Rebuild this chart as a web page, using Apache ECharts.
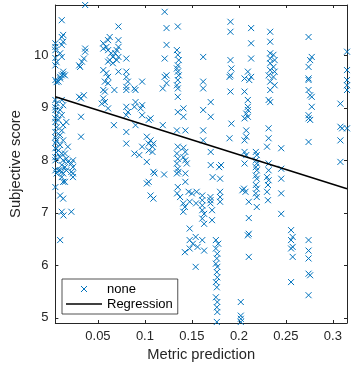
<!DOCTYPE html>
<html>
<head>
<meta charset="utf-8">
<script src="https://cdn.jsdelivr.net/npm/echarts@6/dist/echarts.min.js"></script>
<style>
  html, body { margin: 0; padding: 0; background: #fff; }
  #chart { width: 354px; height: 370px; }
</style>
</head>
<body>
<div id="chart"></div>
<script>
// [metric prediction, subjective score], one line per column of points
const samples = [
  [0.0047,10.23],[0.0047,10.16],[0.0047,10.10],[0.0047,9.95],[0.006,9.87],[0.0047,9.81],[0.0047,9.53],[0.006,9.49],[0.0047,9.15],[0.006,9.09],[0.0047,9.01],[0.0047,8.96],[0.006,8.86],[0.0047,8.80],[0.0047,8.73],[0.006,8.63],[0.0047,8.54],[0.0047,8.44],[0.006,8.38],[0.0047,8.33],[0.0047,8.23],[0.006,8.15],[0.0047,8.06],[0.0047,8.00],[0.0047,7.81],[0.006,7.75],[0.0047,7.49],
  [0.0115,10.67],[0.013,10.39],[0.0115,10.35],[0.013,10.26],[0.0115,10.20],[0.0098,10.04],[0.0115,9.97],[0.013,9.69],[0.0115,9.62],[0.0098,9.56],[0.008,9.50],[0.0115,9.15],[0.013,9.05],[0.0098,8.96],[0.0115,8.86],[0.008,8.77],[0.013,8.67],[0.0115,8.57],[0.0098,8.48],[0.013,8.38],[0.0098,8.29],[0.008,8.19],[0.0115,8.13],[0.0098,8.06],[0.013,8.00],[0.0115,7.91],[0.0098,7.81],[0.013,7.75],[0.0115,7.68],[0.013,7.59],[0.0098,7.33],[0.013,7.27],[0.0115,7.02],[0.0133,6.95],[0.0098,6.48],[0.008,7.81],[0.0115,7.78],[0.0149,7.59],[0.0098,9.59],[0.013,9.64],[0.0149,9.62],
  [0.0164,8.73],[0.018,8.26],[0.0149,8.13],[0.0164,8.03],[0.018,7.97],[0.0149,7.87],[0.0164,7.81],
  [0.0234,8.00],[0.0217,7.94],[0.0234,7.87],[0.0217,7.78],[0.0234,7.75],[0.0234,7.68],[0.0217,7.02],
  [0.0364,10.96],[0.0364,10.13],[0.0364,10.07],[0.035,9.94],[0.033,9.88],[0.030,9.81],[0.031,9.78],[0.035,9.24],[0.030,9.21],[0.032,9.18],[0.032,8.83],[0.032,8.45],
  [0.0557,10.23],[0.0608,10.29],[0.0625,10.35],[0.059,10.16],[0.0557,10.13],[0.0608,10.10],[0.064,10.04],[0.0659,9.97],[0.0625,9.91],[0.0608,9.88],[0.0659,9.85],[0.0557,9.72],[0.059,9.66],[0.0608,9.59],[0.0574,9.50],[0.0608,9.47],[0.0557,9.34],[0.0574,9.31],[0.0675,9.34],[0.0557,9.18],[0.0574,9.11],[0.054,9.08],[0.0608,8.99],[0.067,8.67],
  [0.0718,10.55],[0.0718,10.29],[0.0718,10.16],[0.070,10.10],[0.0684,10.04],[0.0718,9.97],[0.070,9.91],[0.0718,9.69],
  [0.0802,9.94],[0.0802,9.69],[0.0802,9.59],[0.0819,9.50],[0.0802,9.40],[0.0802,9.34],[0.0802,9.02],[0.0819,8.92],[0.0802,8.86],[0.0802,8.54],[0.0802,8.32],
  [0.0888,9.37],[0.090,9.34],[0.097,9.50],[0.090,9.11],[0.0888,9.02],[0.097,9.05],[0.0955,8.99],[0.097,8.86],[0.090,8.67],[0.0888,8.13],[0.094,8.10],[0.097,8.26],
  [0.104,8.77],[0.106,8.80],[0.102,8.45],[0.106,8.38],[0.104,8.32],[0.108,8.26],[0.104,8.19],[0.108,8.16],[0.109,8.32],[0.102,7.97],[0.109,7.78],[0.104,7.59],[0.102,7.56],[0.106,7.33],[0.109,7.27],[0.1102,7.75],
  [0.121,10.83],[0.123,10.52],[0.123,10.20],[0.121,9.94],[0.123,9.62],[0.121,9.59],[0.119,9.37],[0.123,9.47],[0.119,8.67],[0.1204,7.73],
  [0.135,10.55],[0.134,10.10],[0.135,10.01],[0.136,9.91],[0.135,9.81],[0.134,9.75],[0.135,9.69],[0.136,9.62],[0.135,9.53],[0.134,9.43],[0.135,9.37],[0.135,9.21],[0.135,8.92],[0.134,8.57],[0.135,8.26],[0.134,8.13],[0.135,8.03],[0.134,7.94],[0.135,7.84],[0.134,7.75],[0.135,7.49],[0.1342,7.37],[0.1374,7.30],
  [0.141,8.99],[0.141,8.83],[0.143,8.57],[0.141,8.24],[0.143,8.16],[0.141,8.06],[0.143,8.00],[0.1445,7.94],[0.143,7.59],[0.143,7.75],[0.1357,7.78],[0.1408,7.18],[0.1425,7.11],[0.1408,7.02],[0.1476,7.21],[0.1544,7.18],
  [0.1476,6.70],[0.1476,6.48],[0.151,6.41],[0.1476,6.32],[0.154,6.54],[0.156,6.35],[0.1425,6.25],[0.154,5.97],[0.1465,7.40],[0.150,7.37],[0.155,7.40],
  [0.162,9.97],[0.162,9.50],[0.162,9.37],[0.162,8.96],[0.162,8.57],[0.162,8.38],[0.161,7.33],[0.161,7.24],[0.161,7.14],[0.161,7.05],[0.163,6.98],[0.161,6.89],[0.163,6.79],[0.161,6.48],[0.163,6.28],
  [0.170,9.11],[0.170,8.83],[0.170,8.16],[0.170,7.91],[0.172,7.68],[0.1697,7.30],[0.1697,7.24],[0.1697,7.18],[0.1714,7.05],[0.1714,6.86],
  [0.181,7.91],[0.179,7.87],[0.18,7.65],[0.18,7.40],[0.18,7.30],[0.18,7.21],
  [0.1755,6.48],[0.178,6.41],[0.1755,6.32],[0.177,6.22],[0.1765,6.13],[0.1755,6.03],[0.177,5.97],[0.1765,5.87],[0.177,5.77],[0.1755,5.68],[0.1765,5.58],[0.1755,5.39],[0.177,5.30],[0.1765,5.20],[0.177,5.11],[0.1765,4.92],
  [0.191,10.64],[0.191,10.45],[0.191,9.91],[0.192,9.75],[0.191,9.62],[0.190,9.59],[0.191,9.31],[0.192,8.70],[0.190,8.42],
  [0.2054,7.46],[0.207,7.40],[0.2037,7.43],[0.2105,7.21],[0.2105,6.90],[0.2105,6.60],[0.2105,6.16],[0.219,7.11],[0.202,5.30],[0.202,5.04],[0.202,4.98],[0.202,4.92],
  [0.213,10.52],[0.213,10.23],[0.213,9.94],[0.2095,9.69],[0.213,9.59],[0.211,9.53],[0.206,9.56],[0.206,9.31],[0.2095,9.15],[0.2095,9.02],[0.2095,8.96],[0.2078,8.89],[0.2095,8.83],[0.206,8.80],[0.2078,8.57],[0.2078,8.45],[0.206,8.38],[0.206,8.16],[0.2078,8.10],[0.206,7.94],[0.2095,6.57],
  [0.218,8.16],[0.219,8.10],[0.218,8.00],[0.219,7.94],[0.218,7.87],[0.219,7.81],[0.218,7.71],[0.219,7.65],[0.218,7.53],[0.219,7.46],[0.218,7.37],[0.219,7.30],
  [0.2333,10.45],[0.2333,10.26],[0.2333,10.04],[0.2367,10.01],[0.2333,9.94],[0.238,9.91],[0.2333,9.85],[0.2367,9.78],[0.2333,9.72],[0.238,9.69],[0.2316,9.62],[0.2367,9.59],[0.2333,9.50],[0.238,9.43],[0.2333,9.34],[0.2316,9.15],[0.2333,9.11],[0.2316,8.61],[0.2316,8.42],[0.2299,8.26],[0.2316,7.94],[0.2316,7.81],[0.2299,7.68],[0.2316,7.62],[0.2309,7.53],[0.2299,7.40],[0.2309,7.24],
  [0.245,8.23],[0.245,7.84],[0.245,7.65],[0.245,7.37],[0.245,6.98],
  [0.2555,6.67],[0.2572,6.54],[0.2555,6.48],[0.2572,6.35],[0.2555,6.32],[0.2572,6.16],[0.2555,5.68],
  [0.2741,10.35],[0.2775,9.97],[0.2758,9.91],[0.2741,9.78],[0.2741,9.56],[0.2741,9.53],[0.2741,9.34],[0.2758,9.24],[0.2775,9.21],[0.2775,9.02],[0.2741,8.86],[0.2741,8.80],[0.2758,8.77],[0.2741,8.35],[0.2741,6.48],[0.2741,6.28],[0.2741,6.13],[0.2741,5.84],[0.2758,5.81],[0.2741,5.43],
  [0.315,10.07],[0.315,9.72],[0.315,9.53],[0.315,9.43],[0.315,9.34],[0.308,9.08],[0.308,8.64],[0.3098,8.61],[0.315,8.61],[0.308,8.38],[0.308,7.97]
];

// regression line end points
const regMetric = [0.0047, 0.315];
const regScore = [9.21, 7.46];

const xTicks = [0.05, 0.1, 0.15, 0.2, 0.25, 0.3];
const yTicks = [5, 6, 7, 8, 9, 10];
const xRange = [0.0047, 0.315];
const yRange = [4.9, 10.96];

const axisColor = '#262626';
const markerColor = '#0072BD';
const font = '"Liberation Sans", Arial, sans-serif';
const crossIcon = 'path://M0,0L10,10M10,0L0,10';
const lineIcon = 'path://M0,0L36,0L36,1.5L0,1.5Z';

function onTick(ticks, v) {
  return ticks.some(t => Math.abs(t - v) < 1e-9);
}

function boxAxis(range, ticks, position, withLabels) {
  return {
    type: 'value',
    position: position,
    min: range[0],
    max: range[1],
    splitNumber: 6,
    axisLine: { show: true, onZero: false, lineStyle: { color: axisColor, width: 1 } },
    axisTick: { show: true, inside: true, length: 3, lineStyle: { color: axisColor, width: 1 } },
    axisLabel: {
      show: withLabels,
      color: axisColor,
      fontSize: 13,
      fontFamily: font,
      margin: 7,
      formatter: v => onTick(ticks, v) ? String(Number(v.toFixed(4))) : ''
    },
    splitLine: { show: false }
  };
}

const chart = echarts.init(document.getElementById('chart'));

const bottomAxis = boxAxis(xRange, xTicks, 'bottom', true);
bottomAxis.name = 'Metric prediction';
bottomAxis.nameLocation = 'middle';
bottomAxis.nameGap = 22;
bottomAxis.nameTextStyle = { color: axisColor, fontSize: 14.7, fontFamily: font };

const leftAxis = boxAxis(yRange, yTicks, 'left', true);
leftAxis.name = 'Subjective score';
leftAxis.nameLocation = 'middle';
leftAxis.nameGap = 30;
leftAxis.nameTextStyle = { color: axisColor, fontSize: 14.7, fontFamily: font };

const option = {
  animation: false,
  backgroundColor: '#fff',
  grid: { left: 43, right: 7, top: 5, bottom: 47, containLabel: false },
  xAxis: [bottomAxis, boxAxis(xRange, xTicks, 'top', false)],
  yAxis: [leftAxis, boxAxis(yRange, yTicks, 'right', false)],
  legend: {
    left: 62,
    top: 279,
    orient: 'vertical',
    padding: [3, 5, 3, 4],
    itemGap: 1,
    itemWidth: 36,
    itemHeight: 6,
    backgroundColor: '#fff',
    borderColor: axisColor,
    borderWidth: 0.8,
    borderRadius: 0,
    textStyle: { color: '#000', fontSize: 13, fontFamily: font, lineHeight: 14 },
    data: [
      { name: 'none', icon: crossIcon, itemStyle: { color: 'transparent', borderColor: markerColor, borderWidth: 1 } },
      { name: 'Regression', icon: lineIcon, itemStyle: { color: '#000', borderWidth: 0 } }
    ]
  },
  series: [
    {
      name: 'none',
      type: 'scatter',
      data: samples,
      symbol: crossIcon,
      symbolSize: 6,
      itemStyle: { color: 'transparent', borderColor: markerColor, borderWidth: 1, opacity: 1 },
      clip: true
    },
    {
      name: 'Regression',
      type: 'line',
      data: regMetric.map((x, i) => [x, regScore[i]]),
      symbol: 'none',
      lineStyle: { color: '#000', width: 1.5 },
      z: 3
    }
  ]
};

chart.setOption(option);
</script>
</body>
</html>
